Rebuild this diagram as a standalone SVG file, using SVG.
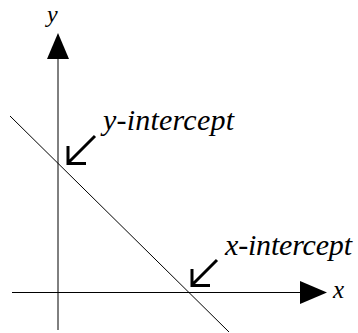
<svg xmlns="http://www.w3.org/2000/svg" width="358" height="333" viewBox="0 0 358 333">
<style>
.lbl{font-family:"Liberation Serif","Times New Roman",serif;font-style:italic;fill:#000}
.thin{stroke:#000;stroke-width:1;fill:none}
.ptr{stroke:#000;stroke-width:3;fill:none;stroke-linecap:butt;stroke-linejoin:miter}
</style>
<rect width="358" height="333" fill="#fff"/>
<g id="connectors">
  <line class="thin" x1="58" y1="56" x2="58" y2="330"/>
  <polygon points="58,33 47,59 69,59" fill="#000"/>
  <line class="thin" x1="12" y1="292.5" x2="302" y2="292.5"/>
  <polygon points="327,292.5 300,281 300,304" fill="#000"/>
  <line class="thin" x1="10" y1="116" x2="229" y2="332"/>
  <path class="ptr" d="M95,136 L69,162 M68,146 L68,163.5 L86,163.5"/>
  <path class="ptr" d="M217,260 L193,284 M192,269 L192,285.5 L210,285.5"/>
</g>
<g id="y-axis-label"><text class="lbl" x="47" y="22" font-size="24">y</text></g>
<g id="x-axis-label"><text class="lbl" x="333" y="298" font-size="25">x</text></g>
<g id="y-intercept"><text class="lbl" x="103" y="130" font-size="30" textLength="131" lengthAdjust="spacing">y-intercept</text></g>
<g id="x-intercept"><text class="lbl" x="225" y="255" font-size="30" textLength="127" lengthAdjust="spacing">x-intercept</text></g>
</svg>
